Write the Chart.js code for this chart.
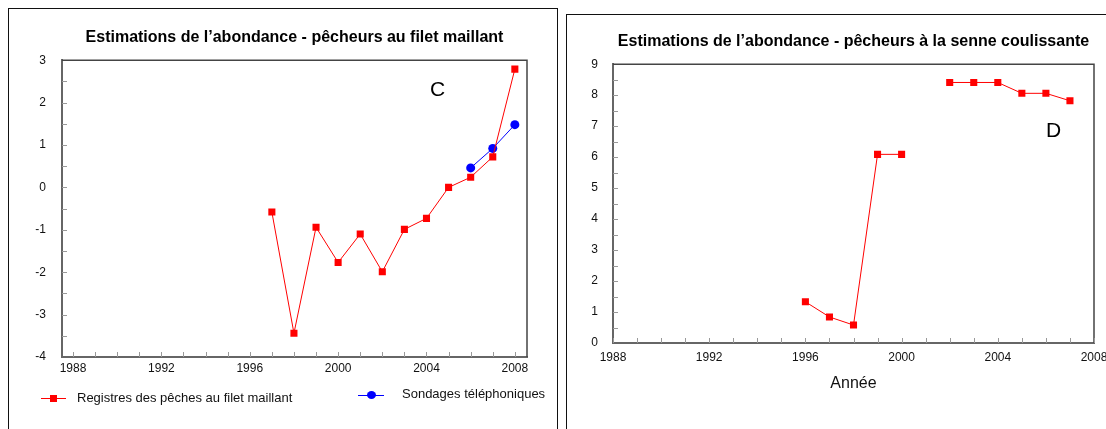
<!DOCTYPE html>
<html>
<head>
<meta charset="utf-8">
<script src="https://cdn.jsdelivr.net/npm/chart.js@4.4.0/dist/chart.umd.min.js"></script>
<style>
body { margin: 0; width: 1106px; height: 429px; overflow: hidden; background: #fff; position: relative;
       font-family: "Liberation Sans", Arial, sans-serif; }
.panel { position: absolute; border: 1px solid #111; box-sizing: border-box; }
#panelC { left: 8px; top: 8px; width: 550px; height: 440px; }
#panelD { left: 566px; top: 14px; width: 600px; height: 440px; }
canvas { position: absolute; top: 0; }
#chartC { left: 0; }
#chartD { left: 560px; }
.tag { position: absolute; font-size: 21px; color: #000; }
.leg { position: absolute; font-size: 13px; color: #111; white-space: nowrap; }
.legline { position: absolute; height: 1px; }
.legmark { position: absolute; }
</style>
</head>
<body>
<div class="panel" id="panelC"></div>
<div class="panel" id="panelD"></div>
<canvas id="chartC" width="560" height="429"></canvas>
<canvas id="chartD" width="560" height="429"></canvas>

<div class="tag" style="left:430px;top:77px;">C</div>
<div class="tag" style="left:1046px;top:118px;">D</div>

<div class="legline" style="left:41px;top:398px;width:25px;background:#f00;"></div>
<div class="legmark" style="left:50px;top:395px;width:7px;height:7px;background:#f00;"></div>
<div class="leg" style="left:77px;top:390px;">Registres des pêches au filet maillant</div>
<div class="legline" style="left:358px;top:395px;width:26px;background:#00f;"></div>
<div class="legmark" style="left:367px;top:391px;width:9px;height:8px;border-radius:50%;background:#00f;"></div>
<div class="leg" style="left:402px;top:386px;">Sondages téléphoniques</div>

<script>
// data
const yearsC = [1997, 1998, 1999, 2000, 2001, 2002, 2003, 2004, 2005, 2006, 2007, 2008];
const gillnetC = [-0.58, -3.44, -0.94, -1.77, -1.1, -1.99, -0.99, -0.73, 0.0, 0.24, 0.72, 2.79];
const surveyYears = [2006, 2007, 2008];
const surveyC = [0.46, 0.92, 1.48];

const yearsD = [1996, 1997, 1998, 1999, 2000, 2001, 2002, 2003, 2004, 2005, 2006, 2007];
const seineD = [1.33, 0.84, 0.58, 6.09, 6.09, null, 8.41, 8.41, 8.41, 8.06, 8.06, 7.82];

const xTickLabels = [1988, 1992, 1996, 2000, 2004, 2008];
const yTicksC = [-4, -3, -2, -1, 0, 1, 2, 3];
const yTicksD = [0, 1, 2, 3, 4, 5, 6, 7, 8, 9];

Chart.defaults.font.family = '"Liberation Sans", Arial, sans-serif';
Chart.defaults.color = '#111';

function toPoints(xs, ys) {
    return xs.map((x, i) => ({ x: x, y: ys[i] }));
}

// frame top/right plus small inward ticks (every year, every half unit)
const frameTicks = {
    id: 'frameTicks',
    beforeDatasetsDraw(chart) {
        const { ctx, chartArea: a, scales: { x, y } } = chart;
        ctx.save();
        ctx.strokeStyle = '#444';
        ctx.lineWidth = 1.5;
        ctx.beginPath();
        ctx.moveTo(a.left, a.top);
        ctx.lineTo(a.right, a.top);
        ctx.lineTo(a.right, a.bottom);
        ctx.stroke();
        ctx.strokeStyle = '#999';
        ctx.lineWidth = 1;
        ctx.beginPath();
        for (let yr = Math.ceil(x.min); yr <= Math.floor(x.max); yr++) {
            const px = Math.round(x.getPixelForValue(yr)) + 0.5;
            ctx.moveTo(px, a.bottom);
            ctx.lineTo(px, a.bottom - 5);
        }
        for (let v = y.min + 0.5; v < y.max; v += 0.5) {
            const py = Math.round(y.getPixelForValue(v)) + 0.5;
            ctx.moveTo(a.left, py);
            ctx.lineTo(a.left + 5, py);
        }
        ctx.stroke();
        ctx.restore();
    }
};

function makeScales(opt) {
    return {
        x: {
            type: 'linear',
            min: opt.xMin,
            max: opt.xMax,
            afterBuildTicks: s => { s.ticks = xTickLabels.map(v => ({ value: v })); },
            afterFit: s => { s.height = opt.xHeight; },
            grid: { display: false, drawTicks: false },
            border: { display: true, color: '#666', width: 2 },
            ticks: { font: { size: 12 }, padding: opt.xPad, maxRotation: 0, callback: v => String(v) },
            title: opt.xTitle
        },
        y: {
            min: opt.yTicks[0],
            max: opt.yTicks[opt.yTicks.length - 1],
            afterBuildTicks: s => { s.ticks = opt.yTicks.map(v => ({ value: v })); },
            afterFit: s => { s.width = opt.yWidth; },
            grid: { display: false, drawTicks: false },
            border: { display: true, color: '#666', width: 2 },
            ticks: { font: { size: 12 }, padding: opt.yPad }
        }
    };
}

new Chart(document.getElementById('chartC'), {
    type: 'line',
    data: {
        datasets: [{
            label: 'Registres des pêches au filet maillant',
            data: toPoints(yearsC, gillnetC),
            borderColor: '#ff0000',
            backgroundColor: '#ff0000',
            borderWidth: 1,
            pointStyle: 'rect',
            pointRadius: 5,
            pointBorderWidth: 0
        }, {
            label: 'Sondages téléphoniques',
            data: toPoints(surveyYears, surveyC),
            borderColor: '#0000ff',
            backgroundColor: '#0000ff',
            borderWidth: 1,
            pointStyle: 'circle',
            pointRadius: 4.5,
            pointBorderWidth: 0
        }]
    },
    options: {
        responsive: false,
        animation: false,
        layout: { padding: { top: 0, right: 33, bottom: 0, left: 0 } },
        plugins: {
            legend: { display: false },
            tooltip: { enabled: false },
            title: {
                display: true,
                fullSize: false,
                text: 'Estimations de l\u2019abondance - pêcheurs au filet maillant',
                font: { size: 16, weight: 'bold' },
                color: '#000',
                padding: { top: 28, bottom: 13 }
            }
        },
        scales: makeScales({
            xMin: 1987.5, xMax: 2008.55, xHeight: 72, xPad: 4,
            yTicks: yTicksC, yWidth: 62, yPad: 16,
            xTitle: { display: false }
        })
    },
    plugins: [frameTicks]
});

new Chart(document.getElementById('chartD'), {
    type: 'line',
    data: {
        datasets: [{
            label: 'Senne coulissante',
            data: toPoints(yearsD, seineD),
            borderColor: '#ff0000',
            backgroundColor: '#ff0000',
            borderWidth: 1,
            pointStyle: 'rect',
            pointRadius: 5,
            pointBorderWidth: 0,
            spanGaps: false
        }]
    },
    options: {
        responsive: false,
        animation: false,
        layout: { padding: { top: 0, right: 26, bottom: 0, left: 0 } },
        plugins: {
            legend: { display: false },
            tooltip: { enabled: false },
            title: {
                display: true,
                fullSize: false,
                text: 'Estimations de l\u2019abondance - pêcheurs à la senne coulissante',
                font: { size: 16, weight: 'bold' },
                color: '#000',
                padding: { top: 32, bottom: 13 }
            }
        },
        scales: makeScales({
            xMin: 1988, xMax: 2008, xHeight: 86, xPad: 7,
            yTicks: yTicksD, yWidth: 53, yPad: 15,
            xTitle: { display: true, text: 'Année', font: { size: 16 }, color: '#111', padding: { top: 0, bottom: 36 } }
        })
    },
    plugins: [frameTicks]
});
</script>
</body>
</html>
